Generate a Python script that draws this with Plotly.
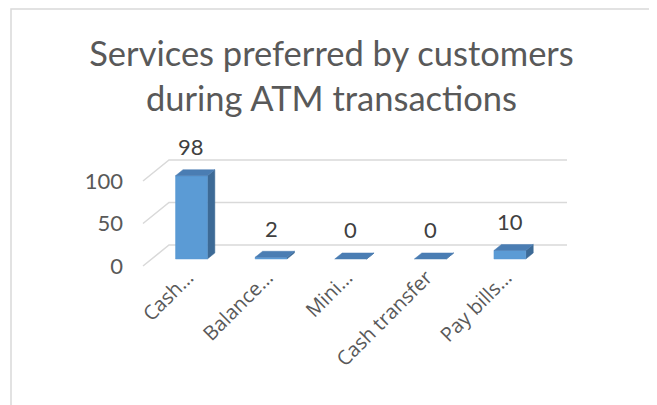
import plotly.graph_objects as go

# ---- data ----
categories = ["Cash…", "Balance…", "Mini…", "Cash transfer", "Pay bills…"]
values = [98, 2, 0, 0, 10]
y_ticks = [0, 50, 100]
title_text = "Services preferred by customers<br>during ATM transactions"

# ---- styling / geometry (oblique 3D projection in data units) ----
DX = 0.3266      # depth shift in category units (full depth)
DY = 24.7        # depth shift in value units (full depth)
D0, D1 = 0.333, 0.62   # bar front / back depth fractions
HALF = 0.2       # half bar width (category units)
FRONT = "#5B9BD5"
TOP = "#4A7DB3"
SIDE = "#3D6A96"
GRID = "#D9D9D9"

fig = go.Figure()

n = len(categories)
for t in y_ticks:
    fig.add_trace(go.Scatter(
        x=[-0.5, -0.5 + DX, n - 0.5 + DX],
        y=[t, t + DY, t + DY],
        mode="lines", line=dict(color=GRID, width=1.5),
        hoverinfo="skip", showlegend=False))

for i, v in enumerate(values):
    xl0 = i - HALF + D0 * DX
    xr0 = i + HALF + D0 * DX
    xl1 = i - HALF + D1 * DX
    xr1 = i + HALF + D1 * DX
    yb0 = D0 * DY
    yb1 = D1 * DY
    yt0 = v + D0 * DY
    yt1 = v + D1 * DY
    fig.add_trace(go.Scatter(
        x=[xr0, xr1, xr1, xr0, xr0], y=[yb0, yb1, yt1, yt0, yb0],
        fill="toself", fillcolor=SIDE, mode="lines",
        line=dict(color=SIDE, width=0.5), hoverinfo="skip", showlegend=False))
    if v > 0:
        fig.add_trace(go.Scatter(
            x=[xl0, xr0, xr0, xl0, xl0], y=[yb0, yb0, yt0, yt0, yb0],
            fill="toself", fillcolor=FRONT, mode="lines",
            line=dict(color=FRONT, width=0.5), hoverinfo="skip", showlegend=False))
    fig.add_trace(go.Scatter(
        x=[xl0, xr0, xr1, xl1, xl0], y=[yt0, yt0, yt1, yt1, yt0],
        fill="toself", fillcolor=TOP, mode="lines",
        line=dict(color=TOP, width=0.5), hoverinfo="skip", showlegend=False))

annotations = [
    dict(x=i + D0 * DX, y=v + D1 * DY, xref="x", yref="y",
         text=str(v), showarrow=False, xanchor="center", yanchor="middle",
         yshift=23, font=dict(family="Lato", size=22, color="#404040"))
    for i, v in enumerate(values)
]

# page offset (browser body margin) compensation
OFF = 8
W, H = 657, 405
# plot area in reference pixel coords
PX0, PX1, PY0, PY1 = 130, 600, 120, 270
L, R, T, B = PX0 - OFF, W - (PX1 - OFF), PY0 - OFF, H - (PY1 - OFF)
pw, ph = PX1 - PX0, PY1 - PY0

def px_to_paper_x(px):
    return (px - PX0) / pw

def px_to_paper_y(py):
    return (PY1 - py) / ph

fig.update_layout(
    width=W, height=H,
    margin=dict(l=L, r=R, t=T, b=B, autoexpand=False),
    paper_bgcolor="white", plot_bgcolor="rgba(0,0,0,0)",
    title=dict(text=title_text, x=(331.5 - OFF) / W, xanchor="center", xref="container",
               y=1 - 58 / H, yanchor="top", yref="container",
               font=dict(family="Lato", size=34.5, color="#595959")),
    xaxis=dict(range=[(PX0 - 182.8) / 79.6, (PX1 - 182.8) / 79.6],
               tickvals=[i + 0.06 for i in range(n)], ticktext=categories,
               tickangle=-45, showgrid=False, zeroline=False, showline=False,
               ticks="", ticklabelstandoff=-9,
               tickfont=dict(family="Open Sans", size=20, color="#595959")),
    yaxis=dict(range=[(266 - PY1) / 0.85, (266 - PY0) / 0.85],
               tickvals=y_ticks, showgrid=False, zeroline=False, showline=False,
               ticks="", ticklabelstandoff=6,
               tickfont=dict(family="Lato", size=22, color="#595959")),
    annotations=annotations,
    shapes=[dict(type="rect", xref="paper", yref="paper",
                 x0=px_to_paper_x(11), x1=px_to_paper_x(652),
                 y0=px_to_paper_y(430), y1=px_to_paper_y(9),
                 line=dict(color=GRID, width=1.5), fillcolor="rgba(0,0,0,0)",
                 layer="below")],
)

fig.write_html("out.html")
